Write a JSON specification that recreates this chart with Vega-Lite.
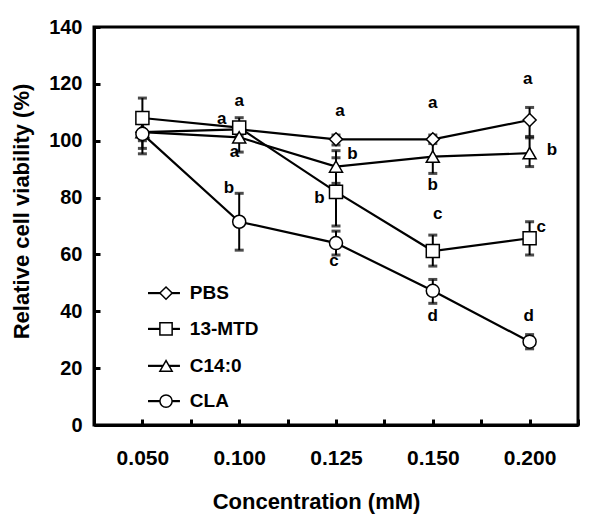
{
  "$schema": "https://vega.github.io/schema/vega-lite/v6.json",
  "width": 484,
  "height": 398,
  "autosize": {"type": "none"},
  "padding": {"left": 94, "top": 27, "right": 22, "bottom": 105},
  "background": "white",
  "config": {
    "font": "Liberation Sans",
    "view": {"stroke": "black", "strokeWidth": 3},
    "axis": {
      "grid": false,
      "domainColor": "black",
      "domainWidth": 3,
      "tickColor": "black",
      "tickWidth": 3,
      "labelColor": "black",
      "labelFont": "Liberation Sans",
      "labelFontWeight": "bold",
      "titleColor": "black",
      "titleFont": "Liberation Sans",
      "titleFontWeight": "bold"
    }
  },
  "datasets": {
    "viability": [
      {"group": "PBS", "idx": 0, "conc": "0.050", "mean": 103, "lo": 100, "hi": 106},
      {"group": "PBS", "idx": 1, "conc": "0.100", "mean": 104, "lo": 102, "hi": 106},
      {"group": "PBS", "idx": 2, "conc": "0.125", "mean": 100.5, "lo": 98.5, "hi": 102},
      {"group": "PBS", "idx": 3, "conc": "0.150", "mean": 100.5, "lo": 99, "hi": 102},
      {"group": "PBS", "idx": 4, "conc": "0.200", "mean": 107.3, "lo": 101.5, "hi": 111.7},
      {"group": "13-MTD", "idx": 0, "conc": "0.050", "mean": 108, "lo": 101, "hi": 115},
      {"group": "13-MTD", "idx": 1, "conc": "0.100", "mean": 104.6, "lo": 101, "hi": 108.1},
      {"group": "13-MTD", "idx": 2, "conc": "0.125", "mean": 82, "lo": 70, "hi": 94},
      {"group": "13-MTD", "idx": 3, "conc": "0.150", "mean": 61.2, "lo": 55.9, "hi": 66.8},
      {"group": "13-MTD", "idx": 4, "conc": "0.200", "mean": 65.7, "lo": 59.8, "hi": 71.5},
      {"group": "C14:0", "idx": 0, "conc": "0.050", "mean": 103, "lo": 97.3, "hi": 108},
      {"group": "C14:0", "idx": 1, "conc": "0.100", "mean": 101.2, "lo": 96, "hi": 104},
      {"group": "C14:0", "idx": 2, "conc": "0.125", "mean": 90.9, "lo": 85, "hi": 96.5},
      {"group": "C14:0", "idx": 3, "conc": "0.150", "mean": 94.4, "lo": 88.5, "hi": 100},
      {"group": "C14:0", "idx": 4, "conc": "0.200", "mean": 95.6, "lo": 90.9, "hi": 101},
      {"group": "CLA", "idx": 0, "conc": "0.050", "mean": 102.4, "lo": 95.4, "hi": 109.4},
      {"group": "CLA", "idx": 1, "conc": "0.100", "mean": 71.5, "lo": 61.5, "hi": 81.5},
      {"group": "CLA", "idx": 2, "conc": "0.125", "mean": 64, "lo": 59.8, "hi": 68.2},
      {"group": "CLA", "idx": 3, "conc": "0.150", "mean": 47.2, "lo": 42.8, "hi": 51.2},
      {"group": "CLA", "idx": 4, "conc": "0.200", "mean": 29.3, "lo": 26.8, "hi": 31.8}
    ],
    "letters": [
      {"idx": 1, "v": 114, "letter": "a"},
      {"idx": 0.82, "v": 107.5, "letter": "a"},
      {"idx": 0.95, "v": 96, "letter": "a"},
      {"idx": 0.895, "v": 83.4, "letter": "b"},
      {"idx": 2.04, "v": 110.5, "letter": "a"},
      {"idx": 2.17, "v": 95.3, "letter": "b"},
      {"idx": 1.83, "v": 79.7, "letter": "b"},
      {"idx": 1.98, "v": 57.8, "letter": "c"},
      {"idx": 3, "v": 113.1, "letter": "a"},
      {"idx": 3, "v": 84.4, "letter": "b"},
      {"idx": 3.05, "v": 74.1, "letter": "c"},
      {"idx": 3, "v": 38.3, "letter": "d"},
      {"idx": 3.98, "v": 121.6, "letter": "a"},
      {"idx": 4.23, "v": 96.7, "letter": "b"},
      {"idx": 4.12, "v": 69.8, "letter": "c"},
      {"idx": 3.99, "v": 38.3, "letter": "d"}
    ],
    "legendEntries": [
      {"group": "PBS", "ly": 46.4},
      {"group": "13-MTD", "ly": 33.8},
      {"group": "C14:0", "ly": 20.8},
      {"group": "CLA", "ly": 8.4}
    ]
  },
  "layer": [
    {
      "data": {"name": "viability"},
      "mark": {"type": "line", "color": "black", "strokeWidth": 2.2},
      "encoding": {
        "x": {
          "field": "idx", "type": "quantitative", "title": "Concentration (mM)",
          "scale": {"domain": [-0.5, 4.5], "nice": false, "zero": false},
          "axis": {
            "titleFontSize": 22,
            "titleX": 222,
            "titleY": 66,
            "values": [-0.5, 0, 0.5, 1, 1.5, 2, 2.5, 3, 3.5, 4, 4.5],
            "labelExpr": "datum.value == 0 ? '0.050' : datum.value == 1 ? '0.100' : datum.value == 2 ? '0.125' : datum.value == 3 ? '0.150' : datum.value == 4 ? '0.200' : ''",
            "labelFontSize": 21,
            "labelPadding": 28,
            "tickSize": -6,
            "labelOverlap": false
          }
        },
        "y": {
          "field": "mean", "type": "quantitative", "title": "Relative cell viability (%)",
          "scale": {"domain": [0, 140], "nice": false},
          "axis": {
            "titleFontSize": 22,
            "titleX": -61,
            "titleY": 184,
            "values": [0, 20, 40, 60, 80, 100, 120, 140],
            "labelFontSize": 20,
            "labelPadding": 18,
            "tickSize": -6
          }
        },
        "detail": {"field": "group"}
      }
    },
    {
      "data": {"name": "viability"},
      "mark": {"type": "rule", "color": "black", "strokeWidth": 2},
      "encoding": {
        "x": {"field": "idx", "type": "quantitative", "title": "Concentration (mM)"},
        "y": {"field": "lo", "type": "quantitative", "title": "Relative cell viability (%)"},
        "y2": {"field": "hi"}
      }
    },
    {
      "data": {"name": "viability"},
      "mark": {"type": "tick", "orient": "horizontal", "color": "black", "size": 9, "thickness": 3},
      "encoding": {
        "x": {"field": "idx", "type": "quantitative", "title": "Concentration (mM)"},
        "y": {"field": "lo", "type": "quantitative", "title": "Relative cell viability (%)"}
      }
    },
    {
      "data": {"name": "viability"},
      "mark": {"type": "tick", "orient": "horizontal", "color": "black", "size": 9, "thickness": 3},
      "encoding": {
        "x": {"field": "idx", "type": "quantitative", "title": "Concentration (mM)"},
        "y": {"field": "hi", "type": "quantitative", "title": "Relative cell viability (%)"}
      }
    },
    {
      "data": {"name": "viability"},
      "mark": {"type": "point", "filled": false, "fill": "white", "stroke": "black", "color": "black", "strokeWidth": 1.5, "size": 170, "opacity": 1},
      "encoding": {
        "x": {"field": "idx", "type": "quantitative", "title": "Concentration (mM)"},
        "y": {"field": "mean", "type": "quantitative", "title": "Relative cell viability (%)"},
        "shape": {
          "field": "group", "type": "nominal",
          "scale": {"domain": ["PBS", "13-MTD", "C14:0", "CLA"], "range": ["diamond", "square", "triangle-up", "circle"]},
          "legend": null
        }
      }
    },
    {
      "data": {"name": "legendEntries"},
      "mark": {"type": "rule", "color": "black", "strokeWidth": 2.2},
      "encoding": {
        "x": {"datum": 0.058, "type": "quantitative", "title": "Concentration (mM)"},
        "x2": {"datum": 0.388},
        "y": {"field": "ly", "type": "quantitative", "title": "Relative cell viability (%)"}
      }
    },
    {
      "data": {"name": "legendEntries"},
      "mark": {"type": "point", "filled": false, "fill": "white", "stroke": "black", "color": "black", "strokeWidth": 1.5, "size": 150, "opacity": 1},
      "encoding": {
        "x": {"datum": 0.244, "type": "quantitative", "title": "Concentration (mM)"},
        "y": {"field": "ly", "type": "quantitative", "title": "Relative cell viability (%)"},
        "shape": {"field": "group", "type": "nominal", "legend": null}
      }
    },
    {
      "data": {"name": "legendEntries"},
      "mark": {"type": "text", "font": "Liberation Sans", "fontWeight": "bold", "fontSize": 19, "color": "black", "baseline": "middle", "align": "left"},
      "encoding": {
        "x": {"datum": 0.49, "type": "quantitative", "title": "Concentration (mM)"},
        "y": {"field": "ly", "type": "quantitative", "title": "Relative cell viability (%)"},
        "text": {"field": "group"}
      }
    },
    {
      "data": {"name": "letters"},
      "mark": {"type": "text", "font": "Liberation Sans", "fontWeight": "bold", "fontSize": 17, "color": "black", "baseline": "middle", "align": "center"},
      "encoding": {
        "x": {"field": "idx", "type": "quantitative", "title": "Concentration (mM)"},
        "y": {"field": "v", "type": "quantitative", "title": "Relative cell viability (%)"},
        "text": {"field": "letter"}
      }
    }
  ]
}
